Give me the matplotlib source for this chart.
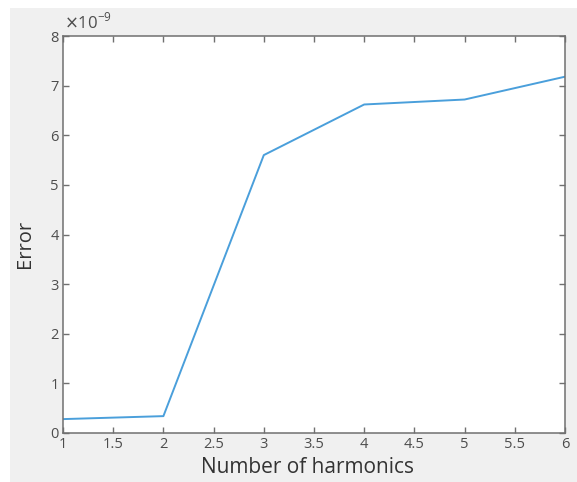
import matplotlib.pyplot as plt
from matplotlib.patches import Rectangle
from matplotlib.ticker import FuncFormatter

harmonics = [1, 2, 3, 4, 5, 6]
error = [0.28e-9, 0.34e-9, 5.6e-9, 6.62e-9, 6.72e-9, 7.18e-9]

x_ticks = [1, 1.5, 2, 2.5, 3, 3.5, 4, 4.5, 5, 5.5, 6]
y_ticks = [0, 1e-9, 2e-9, 3e-9, 4e-9, 5e-9, 6e-9, 7e-9, 8e-9]

plt.rcParams['font.family'] = ['Open Sans', 'DejaVu Sans']

W, H = 577, 482
fig = plt.figure(figsize=(W / 100, H / 100), dpi=100, facecolor='white')
# matlab-like grey panel behind the axes
fig.patches.append(Rectangle((10 / W, 0), 1 - 10 / W, 1 - 8 / H,
                             transform=fig.transFigure, facecolor='#f0f0f0',
                             edgecolor='none', zorder=-10))

ax = fig.add_axes([63 / W, 1 - 433 / H, (565 - 63) / W, (433 - 36) / H])
ax.plot(harmonics, error, color='#4a9fdb', lw=1.4)

ax.set_xlim(1, 6)
ax.set_ylim(0, 8e-9)
ax.set_xticks(x_ticks)
ax.set_yticks(y_ticks)
ax.xaxis.set_major_formatter(FuncFormatter(lambda v, p: f"{v:g}"))
ax.yaxis.set_major_formatter(FuncFormatter(lambda v, p: f"{v / 1e-9:g}"))

ax.tick_params(direction='in', top=True, right=True, length=4, width=1.0,
               colors='#707070', labelsize=10.5, labelcolor='#4d4d4d', pad=3)
for s in ax.spines.values():
    s.set_color('#707070')
    s.set_linewidth(1.1)

ax.text(0.002, 1.008, r'$\times$10$^{\mathregular{-9}}$', transform=ax.transAxes,
        ha='left', va='bottom', fontsize=12, color='#4d4d4d')

ax.set_xlabel('Number of harmonics', fontsize=15, color='#333333')
ax.xaxis.set_label_coords(0.488, -0.06)
ax.set_ylabel('Error', fontsize=14.5, color='#333333')
ax.yaxis.set_label_coords(-0.056, 0.476)

fig.savefig('out.png', dpi=100)
